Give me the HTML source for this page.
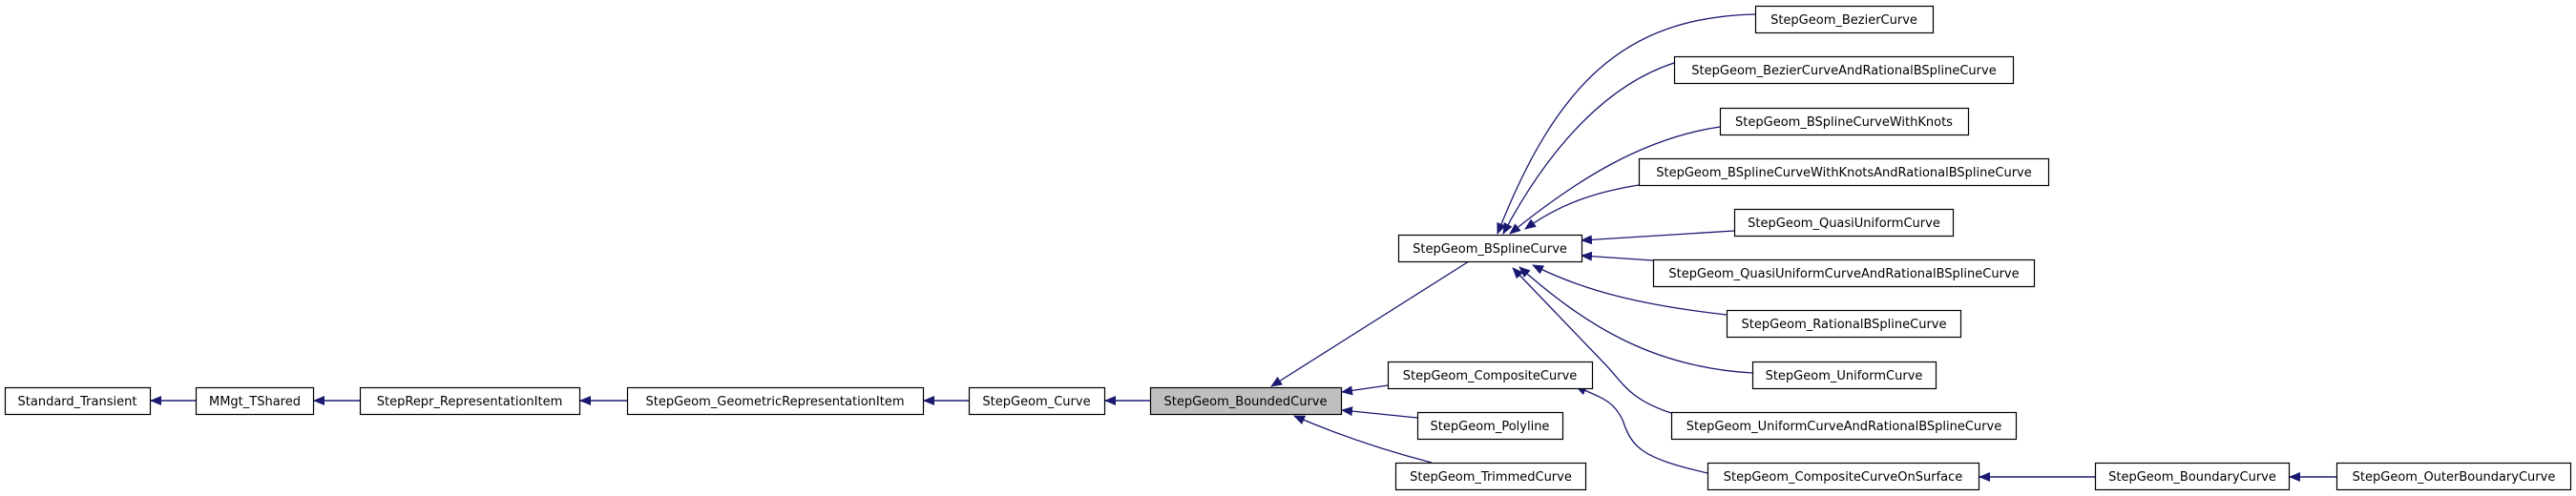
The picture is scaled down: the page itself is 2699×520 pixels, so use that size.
<!DOCTYPE html>
<html><head><meta charset="utf-8"><style>
html,body{margin:0;padding:0;background:#fff;width:2699px;height:520px;overflow:hidden}
text{font-family:"DejaVu Sans",sans-serif;font-size:13px;fill:#000}
</style></head><body>
<svg width="2699" height="520" viewBox="0 0 2699 520" xmlns="http://www.w3.org/2000/svg">
<defs><marker id="a" viewBox="0 0 12 10" refX="11" refY="5" markerWidth="12" markerHeight="10" markerUnits="userSpaceOnUse" orient="auto"><path d="M0,0 L12,5 L0,10 z" fill="#191970"/></marker></defs>
<g fill="none" stroke="#191970" stroke-width="1.3" marker-end="url(#a)">
<path d="M205 420 L158 420" stroke="#55559a" stroke-width="2"/>
<path d="M377 420 L329 420" stroke="#55559a" stroke-width="2"/>
<path d="M657 420 L608 420" stroke="#55559a" stroke-width="2"/>
<path d="M1015 420 L968 420" stroke="#55559a" stroke-width="2"/>
<path d="M1205 420 L1158 420" stroke="#55559a" stroke-width="2"/>
<path d="M2195 500 L2074 500" stroke="#55559a" stroke-width="2"/>
<path d="M2448 500 L2399 500" stroke="#55559a" stroke-width="2"/>
<path d="M1539 274 L1332 405"/>
<path d="M1454 404 L1406 411"/>
<path d="M1485 438 L1406 430"/>
<path d="M1500 485 C1450 472 1400 455 1356 436"/>
<path d="M1839 15 C1700 18 1630 90 1569 245"/>
<path d="M1754 66 C1680 90 1620 160 1575 245"/>
<path d="M1802 133 C1720 145 1650 190 1582 245"/>
<path d="M1717 194 C1680 200 1640 210 1598 240"/>
<path d="M1817 242 L1657 252"/>
<path d="M1732 273 L1657 268"/>
<path d="M1809 330 C1720 320 1660 305 1606 278"/>
<path d="M1836 391 C1730 385 1660 340 1592 280"/>
<path d="M1751 433 C1705 418 1700 400 1680 380 L1585 281"/>
<path d="M1789 496 C1720 480 1710 470 1700 440 C1690 420 1680 418 1651 405"/>
</g>
<g fill="#fff" stroke="#000" stroke-width="1.2">
<rect x="5.5" y="406.5" width="152" height="28"/>
<rect x="205.5" y="406.5" width="123" height="28"/>
<rect x="377.5" y="406.5" width="230" height="28"/>
<rect x="657.5" y="406.5" width="310" height="28"/>
<rect x="1015.5" y="406.5" width="142" height="28"/>
<rect x="1205.5" y="406.5" width="200" height="28" fill="#bfbfbf"/>
<rect x="1465.5" y="246.5" width="192" height="28"/>
<rect x="1454.5" y="379.5" width="214" height="28"/>
<rect x="1485.5" y="432.5" width="152" height="28"/>
<rect x="1462.5" y="485.5" width="199" height="28"/>
<rect x="1839.5" y="6.5" width="186" height="28"/>
<rect x="1754.5" y="59.5" width="355" height="28"/>
<rect x="1802.5" y="113.5" width="260" height="28"/>
<rect x="1717.5" y="166.5" width="429" height="28"/>
<rect x="1817.5" y="219.5" width="229" height="28"/>
<rect x="1732.5" y="272.5" width="399" height="28"/>
<rect x="1809.5" y="325.5" width="245" height="28"/>
<rect x="1836.5" y="379.5" width="192" height="28"/>
<rect x="1751.5" y="432.5" width="361" height="28"/>
<rect x="1789.5" y="485.5" width="284" height="28"/>
<rect x="2195.5" y="485.5" width="203" height="28"/>
<rect x="2448.5" y="485.5" width="245" height="28"/>
</g>
<g text-anchor="middle">
<text x="81" y="425">Standard_Transient</text>
<text x="267" y="425">MMgt_TShared</text>
<text x="492" y="425">StepRepr_RepresentationItem</text>
<text x="812" y="425">StepGeom_GeometricRepresentationItem</text>
<text x="1086" y="425">StepGeom_Curve</text>
<text x="1305" y="425">StepGeom_BoundedCurve</text>
<text x="1561" y="265">StepGeom_BSplineCurve</text>
<text x="1561" y="398">StepGeom_CompositeCurve</text>
<text x="1561" y="451">StepGeom_Polyline</text>
<text x="1562" y="504">StepGeom_TrimmedCurve</text>
<text x="1932" y="25">StepGeom_BezierCurve</text>
<text x="1932" y="78">StepGeom_BezierCurveAndRationalBSplineCurve</text>
<text x="1932" y="132">StepGeom_BSplineCurveWithKnots</text>
<text x="1932" y="185">StepGeom_BSplineCurveWithKnotsAndRationalBSplineCurve</text>
<text x="1932" y="238">StepGeom_QuasiUniformCurve</text>
<text x="1932" y="291">StepGeom_QuasiUniformCurveAndRationalBSplineCurve</text>
<text x="1932" y="344">StepGeom_RationalBSplineCurve</text>
<text x="1932" y="398">StepGeom_UniformCurve</text>
<text x="1932" y="451">StepGeom_UniformCurveAndRationalBSplineCurve</text>
<text x="1931" y="504">StepGeom_CompositeCurveOnSurface</text>
<text x="2297" y="504">StepGeom_BoundaryCurve</text>
<text x="2571" y="504">StepGeom_OuterBoundaryCurve</text>
</g>
</svg>
</body></html>
